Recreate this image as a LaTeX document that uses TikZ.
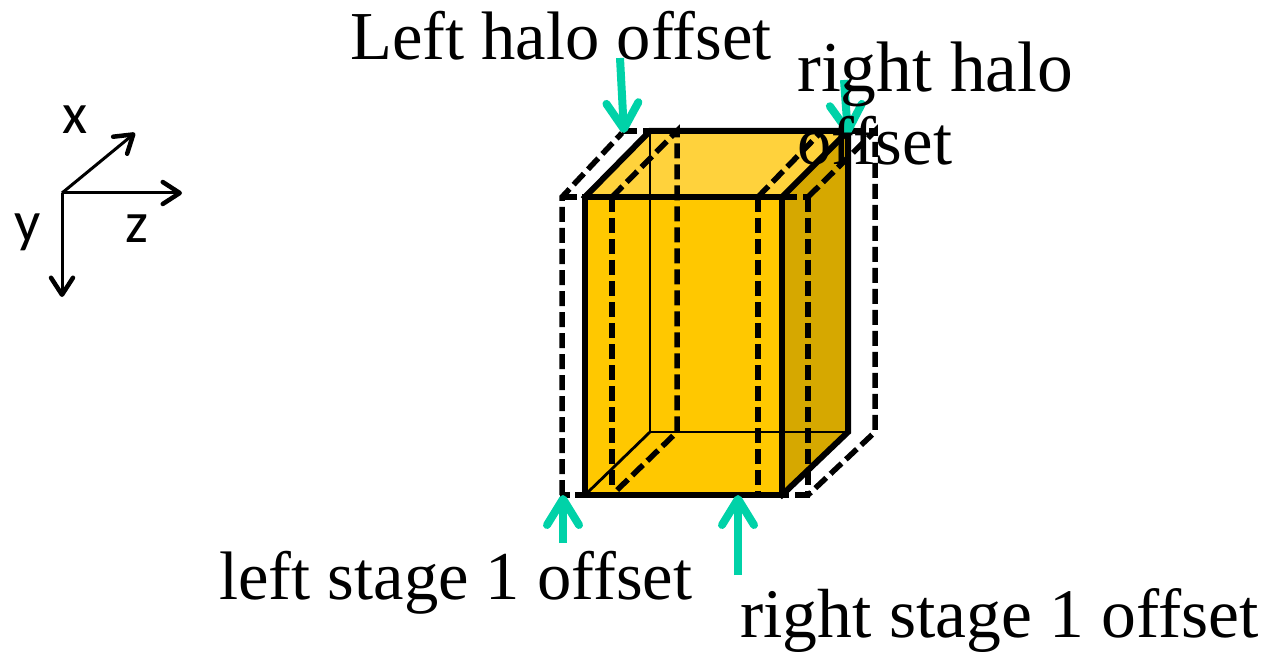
\documentclass[tikz,border=0pt]{standalone}
\usepackage{fontspec}
\setmainfont{Liberation Serif}
\newfontfamily\axisfont{Carlito}
\usetikzlibrary{arrows.meta}
\definecolor{frontc}{HTML}{FFC800}
\definecolor{topc}{HTML}{FFD23C}
\definecolor{sidec}{HTML}{D6A800}
\definecolor{tealc}{HTML}{00D2A8}
\tikzset{
  x=1pt,y=-1pt,
  thick edge/.style={line width=6pt,line cap=rect,line join=miter},
  thin edge/.style={line width=2.8pt},
  halo/.style={line width=5.5pt,dash pattern=on 15pt off 6pt},
  pointer/.style={tealc,line width=8pt,-{Straight Barb[length=26pt,width=32pt,round]}},
  axis/.style={line width=3pt,-{Straight Barb[length=17pt,width=22pt,round,line width=4.5pt]}},
  axislabel/.style={font=\axisfont\fontsize{58}{58}\selectfont,inner sep=0pt},
  label/.style={font=\fontsize{68.6}{73}\selectfont,inner sep=0pt,anchor=base west,align=left},
}
\begin{document}
\begin{tikzpicture}
\useasboundingbox (0,0) rectangle (1268,652);
% named corners
\coordinate (fTL) at (585,197); \coordinate (fTR) at (782,197);
\coordinate (fBL) at (585,495); \coordinate (fBR) at (782,495);
\coordinate (bTL) at (650,131); \coordinate (bTR) at (848,131);
\coordinate (bBL) at (650,432); \coordinate (bBR) at (848,432);
% faces
\fill[topc] (fTL)--(bTL)--(bTR)--(fTR)--cycle;
\fill[sidec] (fTR)--(bTR)--(bBR)--(fBR)--cycle;
\fill[frontc] (fTL)--(fTR)--(fBR)--(fBL)--cycle;
% hidden edges
\draw[thin edge] (bTL)--(bBL)--(bBR);
\draw[thin edge] (bBL)--(fBL);
% halo box
\draw[halo] (562,495)--(562,197)--(622,133);
\draw[halo] (562,197)--(585,197);
\draw[halo] (622,131)--(650,131);
\draw[halo] (612,197)--(612,490);
\draw[halo] (612,197)--(677,131)--(677,432)--(612,495);
\draw[halo] (758,197)--(758,495);
\draw[halo] (758,197)--(822,131);
\draw[halo] (808,197)--(808,495);
\draw[halo] (808,197)--(875,131)--(875,432)--(808,495);
\draw[halo] (782,197)--(808,197);
\draw[halo] (848,131)--(875,131);
\draw[halo,dash pattern=on 10pt off 5pt] (560,495)--(585,495);
\draw[halo] (810,495)--(782,495);
% solid box edges
\draw[thick edge] (fTL) rectangle (fBR);
\draw[thick edge] (fTL)--(bTL)--(bTR)--(fTR);
\draw[thick edge] (bTR)--(bBR)--(fBR);
% pointers
\coordinate (lhA) at (620,58); \coordinate (lhB) at (624,133);
\coordinate (rhA) at (844,80); \coordinate (rhB) at (848,135);
\coordinate (lsA) at (563,543); \coordinate (lsB) at (563,495);
\coordinate (rsA) at (738,575); \coordinate (rsB) at (738,495);
\draw[pointer] (lhA)--(lhB);
\draw[pointer] (rhA)--(rhB);
\draw[pointer] (lsA)--(lsB);
\draw[pointer] (rsA)--(rsB);
% labels
\node[label] (lh) at (350,60) {Left halo offset};
\node[label,font=\fontsize{71.5}{73}\selectfont] (rh1) at (797,92) {right halo};
\node[label] (rh2) at (797,165) {offset};
\node[label] (ls) at (219,599) {left stage 1 offset};
\node[label,font=\fontsize{69.6}{73}\selectfont] (rs) at (740,637) {right stage 1 offset};
% axes
\coordinate (o) at (62,193);
\coordinate (ax) at (135,133); \coordinate (az) at (182,193); \coordinate (ay) at (62,297);
\draw[axis] (o)--(ax);
\draw[axis] (o)--(az);
\draw[axis] (o)--(ay);
\node[axislabel] (xl) at (75,120) {x};
\node[axislabel] (yl) at (28,232) {y};
\node[axislabel] (zl) at (137,229) {z};
\end{tikzpicture}
\end{document}
